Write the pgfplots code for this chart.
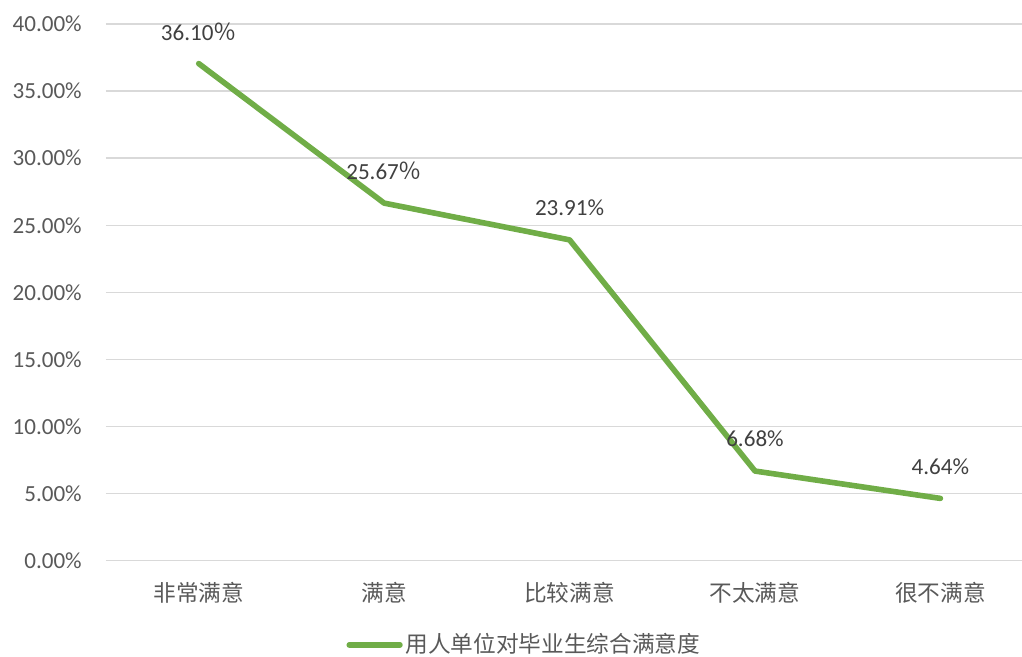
\documentclass[border=0pt]{standalone}
\usepackage{pgfplots}
\pgfplotsset{compat=1.18}
\usepackage{fontspec}
\setmainfont{Carlito}
\newfontfamily\cjk{Noto Sans CJK SC}
\newcommand\cjkpct{{\cjk ％}}
\definecolor{lineg}{HTML}{70AD47}
\definecolor{gridc}{HTML}{D9D9D9}
\definecolor{tickc}{HTML}{595959}
\definecolor{labc}{HTML}{404040}
\begin{document}
\fontsize{17pt}{20pt}\selectfont
\begin{tikzpicture}
\begin{axis}[
  scale only axis,
  width=687pt, height=402.5pt,
  xmin=-0.5, xmax=4.44,
  ymin=0, ymax=40,
  ytick={0,5,10,15,20,25,30,35,40},
  xtick={0,1,2,3,4},
  xticklabels={非常满意,满意,比较满意,不太满意,很不满意},
  xticklabel style={font=\fontsize{17pt}{20pt}\selectfont\cjk, text=tickc, anchor=center, inner sep=0pt, yshift=-24pt},
  yticklabel={\pgfmathprintnumber[fixed,fixed zerofill,precision=2]{\tick}\%},
  yticklabel style={font=\fontsize{17.3pt}{20pt}\selectfont, text=tickc, anchor=east, inner sep=0pt, xshift=-18pt},
  /pgf/number format/assume math mode=true,
  axis line style={draw=none},
  major tick length=0pt,
  ymajorgrids,
  grid style={gridc, line width=1.1pt},
  legend style={at={(0.457,-0.157)}, anchor=center, draw=none, fill=none,
    font=\fontsize{17pt}{20pt}\selectfont\cjk, text=tickc, inner sep=0pt},
  legend image code/.code={\draw[#1, line width=4.2pt, line cap=round] (0pt,0pt) -- (38pt,0pt);},
  legend cell align=left,
  clip=false,
  nodes near coords={\pgfplotspointmeta},
  point meta=explicit symbolic,
  every node near coord/.append style={anchor=center, inner sep=0pt, yshift=24pt, text=labc, font=\fontsize{17.3pt}{20pt}\selectfont},
]
\addplot[lineg, line width=4.2pt, line cap=round, line join=round] coordinates {
 (0,37.05) [36.10\cjkpct]
 (1,26.65) [25.67\cjkpct]
 (2,23.91) [23.91\%]
 (3,6.68) [6.68\%]
 (4,4.64) [4.64\%]
};
\addlegendentry{用人单位对毕业生综合满意度}
\coordinate (bl) at (rel axis cs:0,0);
\end{axis}
\pgfresetboundingbox
\path ([shift={(-79.5pt,-72.2pt)}]bl) rectangle ([shift={(687pt,420.5pt)}]bl);
\end{tikzpicture}
\end{document}
